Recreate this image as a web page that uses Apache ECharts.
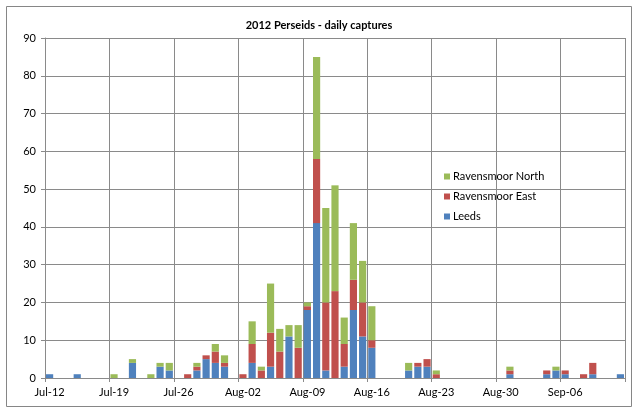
<!DOCTYPE html>
<html>
<head>
<meta charset="utf-8">
<script src="https://cdn.jsdelivr.net/npm/echarts@6/dist/echarts.min.js"></script>
<style>
html,body{margin:0;padding:0;background:#fff;}
#chart{width:638px;height:412px;}
</style>
</head>
<body>
<div id="chart"></div>
<script>
var categories = [
 'Jul-12','Jul-13','Jul-14','Jul-15','Jul-16','Jul-17','Jul-18','Jul-19','Jul-20','Jul-21',
 'Jul-22','Jul-23','Jul-24','Jul-25','Jul-26','Jul-27','Jul-28','Jul-29','Jul-30','Jul-31',
 'Aug-01','Aug-02','Aug-03','Aug-04','Aug-05','Aug-06','Aug-07','Aug-08','Aug-09','Aug-10',
 'Aug-11','Aug-12','Aug-13','Aug-14','Aug-15','Aug-16','Aug-17','Aug-18','Aug-19','Aug-20',
 'Aug-21','Aug-22','Aug-23','Aug-24','Aug-25','Aug-26','Aug-27','Aug-28','Aug-29','Aug-30',
 'Aug-31','Sep-01','Sep-02','Sep-03','Sep-04','Sep-05','Sep-06','Sep-07','Sep-08','Sep-09',
 'Sep-10','Sep-11','Sep-12'
];
var leeds = [
 1,0,0,1,0,0,0,0,0,4,
 0,0,3,2,0,0,2,5,4,3,
 0,0,4,0,3,0,11,0,18,41,
 2,0,3,18,11,8,0,0,0,2,
 3,3,0,0,0,0,0,0,0,0,
 1,0,0,0,1,2,1,0,0,1,
 0,0,1
];
var ravensmoorEast = [
 0,0,0,0,0,0,0,0,0,0,
 0,0,0,0,0,1,1,1,3,1,
 0,1,5,2,9,7,0,8,1,17,
 18,23,6,8,9,2,0,0,0,0,
 1,2,1,0,0,0,0,0,0,0,
 1,0,0,0,1,0,1,0,1,3,
 0,0,0
];
var ravensmoorNorth = [
 0,0,0,0,0,0,0,1,0,1,
 0,1,1,2,0,0,1,0,2,2,
 0,0,6,1,13,6,3,6,1,27,
 25,28,7,15,11,9,0,0,0,2,
 0,0,1,0,0,0,0,0,0,0,
 1,0,0,0,0,1,0,0,0,0,
 0,0,0
];
var yTicks = [0,10,20,30,40,50,60,70,80,90];

var chart = echarts.init(document.getElementById('chart'));
var fontFam = 'Lato, "Liberation Sans", sans-serif';
var gridColor = '#8a8a8a';
chart.setOption({
  animation: false,
  title: {
    text: '2012 Perseids - daily captures',
    left: 'center', top: 15,
    textStyle: {fontFamily: fontFam, fontSize: 11, fontWeight: 'bold', color: '#000'}
  },
  legend: {
    orient: 'vertical', left: 439, top: 166,
    itemWidth: 6, itemHeight: 6, itemGap: 9,
    icon: 'rect',
    data: ['Ravensmoor North','Ravensmoor East','Leeds'],
    textStyle: {fontFamily: fontFam, fontSize: 11, color: '#000', padding: [0,0,0,-2]}
  },
  graphic: [{
    type: 'rect', shape: {x: 6.5, y: 6.5, width: 625, height: 400},
    style: {fill: 'none', stroke: '#868686', lineWidth: 1}, silent: true
  }],
  grid: {left: 45, right: 13, top: 38, bottom: 34, containLabel: false},
  xAxis: {
    type: 'category', data: categories, boundaryGap: true,
    axisLine: {lineStyle: {color: gridColor}},
    axisTick: {show: true, interval: 6, length: 4, lineStyle: {color: gridColor}},
    axisLabel: {interval: 6, fontFamily: fontFam, fontSize: 11, color: '#000', margin: 9},
    splitLine: {show: true, interval: 6, lineStyle: {color: gridColor, width: 1}}
  },
  yAxis: {
    type: 'value', min: 0, max: 90, interval: 10,
    axisLine: {show: true, lineStyle: {color: gridColor}},
    axisTick: {show: true, length: 4, lineStyle: {color: gridColor}},
    axisLabel: {fontFamily: fontFam, fontSize: 11, color: '#000', margin: 9,
      formatter: function(v){ return yTicks.indexOf(v) >= 0 ? String(v) : ''; }},
    splitLine: {show: true, lineStyle: {color: gridColor, width: 1}}
  },
  series: [
    {name: 'Leeds', type: 'bar', stack: 'a', data: leeds, barCategoryGap: '22%',
     itemStyle: {color: '#4F81BD'}},
    {name: 'Ravensmoor East', type: 'bar', stack: 'a', data: ravensmoorEast,
     itemStyle: {color: '#C0504D'}},
    {name: 'Ravensmoor North', type: 'bar', stack: 'a', data: ravensmoorNorth,
     itemStyle: {color: '#9BBB59'}}
  ]
});
</script>
</body>
</html>
